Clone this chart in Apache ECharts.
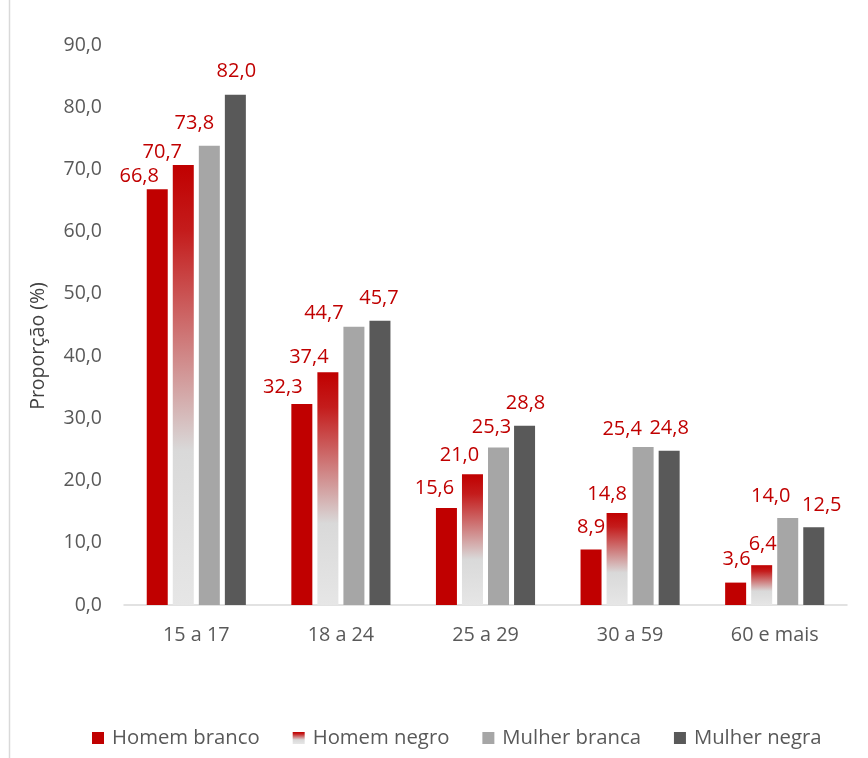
<!DOCTYPE html>
<html>
<head>
<meta charset="utf-8">
<script src="https://cdn.jsdelivr.net/npm/echarts@6/dist/echarts.min.js"></script>
<style>
html,body{margin:0;padding:0;background:#fff;}
#main{width:868px;height:758px;}
</style>
</head>
<body>
<div id="main"></div>
<script>
var categorias = ['15 a 17', '18 a 24', '25 a 29', '30 a 59', '60 e mais'];
var homemBranco = [66.8, 32.3, 15.6, 8.9, 3.6];
var homemNegro = [70.7, 37.4, 21.0, 14.8, 6.4];
var mulherBranca = [73.8, 44.7, 25.3, 25.4, 14.0];
var mulherNegra = [82.0, 45.7, 28.8, 24.8, 12.5];

// deslocamento manual dos rótulos (como no Excel): [dx, folga acima da barra]
var ajusteRotulos = [
    [[-18, 8], [-19, 12], [-12, 15], [0, 17], [1, 18]],
    [[-21, 8], [-19, 10], [-13, 14], [-10, 14], [1, 16]],
    [[-15, 18], [-30, 9], [-7, 15], [-21, 13], [-17, 17]],
    [[1, 18], [-1, 17], [1, 18], [0, 17], [8, 17]]
];

var fonte = '"Open Sans", "Noto Sans", sans-serif';
var vermelho = '#c00000';

function fmt(v) {
    return v.toFixed(1).replace('.', ',');
}

function serie(nome, valores, cor, idx) {
    let dados = [];
    for (let i = 0; i < valores.length; ++i) {
        let aj = ajusteRotulos[idx][i];
        dados.push({
            value: valores[i],
            label: { offset: [aj[0], -(aj[1] - 5)] }
        });
    }
    return {
        name: nome,
        type: 'bar',
        barWidth: 21,
        barGap: '24%',
        itemStyle: { color: cor },
        label: {
            show: true,
            position: 'top',
            distance: 0,
            color: vermelho,
            fontFamily: fonte,
            fontSize: 20,
            formatter: function (p) { return fmt(p.value); }
        },
        data: dados
    };
}

var gradNegro = new echarts.graphic.LinearGradient(0, 0, 0, 1, [
    { offset: 0, color: '#c00000' },
    { offset: 0.15, color: '#c41c1c' },
    { offset: 0.65, color: '#d9d9d9' },
    { offset: 1, color: '#e6e6e6' }
]);

var myChart = echarts.init(document.getElementById('main'));
var option = {
    backgroundColor: '#fff',
    animation: false,
    textStyle: { fontFamily: fonte },
    grid: { left: 124, right: 21, top: 45, bottom: 153 },
    legend: {
        left: 87,
        top: 723,
        icon: 'rect',
        itemWidth: 12,
        itemHeight: 12,
        itemGap: 33,
        textStyle: { color: '#595959', fontSize: 20.3, fontFamily: fonte, padding: [0, 0, 0, 3] },
        data: ['Homem branco', 'Homem negro', 'Mulher branca', 'Mulher negra']
    },
    xAxis: {
        type: 'category',
        data: categorias,
        axisLine: { lineStyle: { color: '#d9d9d9', width: 1.5 } },
        axisTick: { show: false },
        axisLabel: { color: '#595959', fontSize: 19.8, fontFamily: fonte, margin: 20 }
    },
    yAxis: {
        type: 'value',
        min: 0,
        max: 90,
        interval: 10,
        name: 'Proporção (%)',
        nameLocation: 'middle',
        nameGap: 76,
        nameTextStyle: { color: '#404040', fontSize: 19.5, fontFamily: fonte, padding: [0, 42, 0, 0] },
        axisLine: { show: false },
        axisTick: { show: false },
        splitLine: { show: false },
        axisLabel: {
            color: '#595959',
            fontSize: 19.5,
            fontFamily: fonte,
            margin: 22,
            formatter: function (v) { return fmt(v); }
        }
    },
    graphic: [{
        type: 'line',
        shape: { x1: 9.5, y1: 0, x2: 9.5, y2: 758 },
        style: { stroke: '#d9d9d9', lineWidth: 1.5 }
    }],
    series: [
        serie('Homem branco', homemBranco, vermelho, 0),
        serie('Homem negro', homemNegro, gradNegro, 1),
        serie('Mulher branca', mulherBranca, '#a6a6a6', 2),
        serie('Mulher negra', mulherNegra, '#595959', 3)
    ]
};
myChart.setOption(option);
</script>
</body>
</html>
